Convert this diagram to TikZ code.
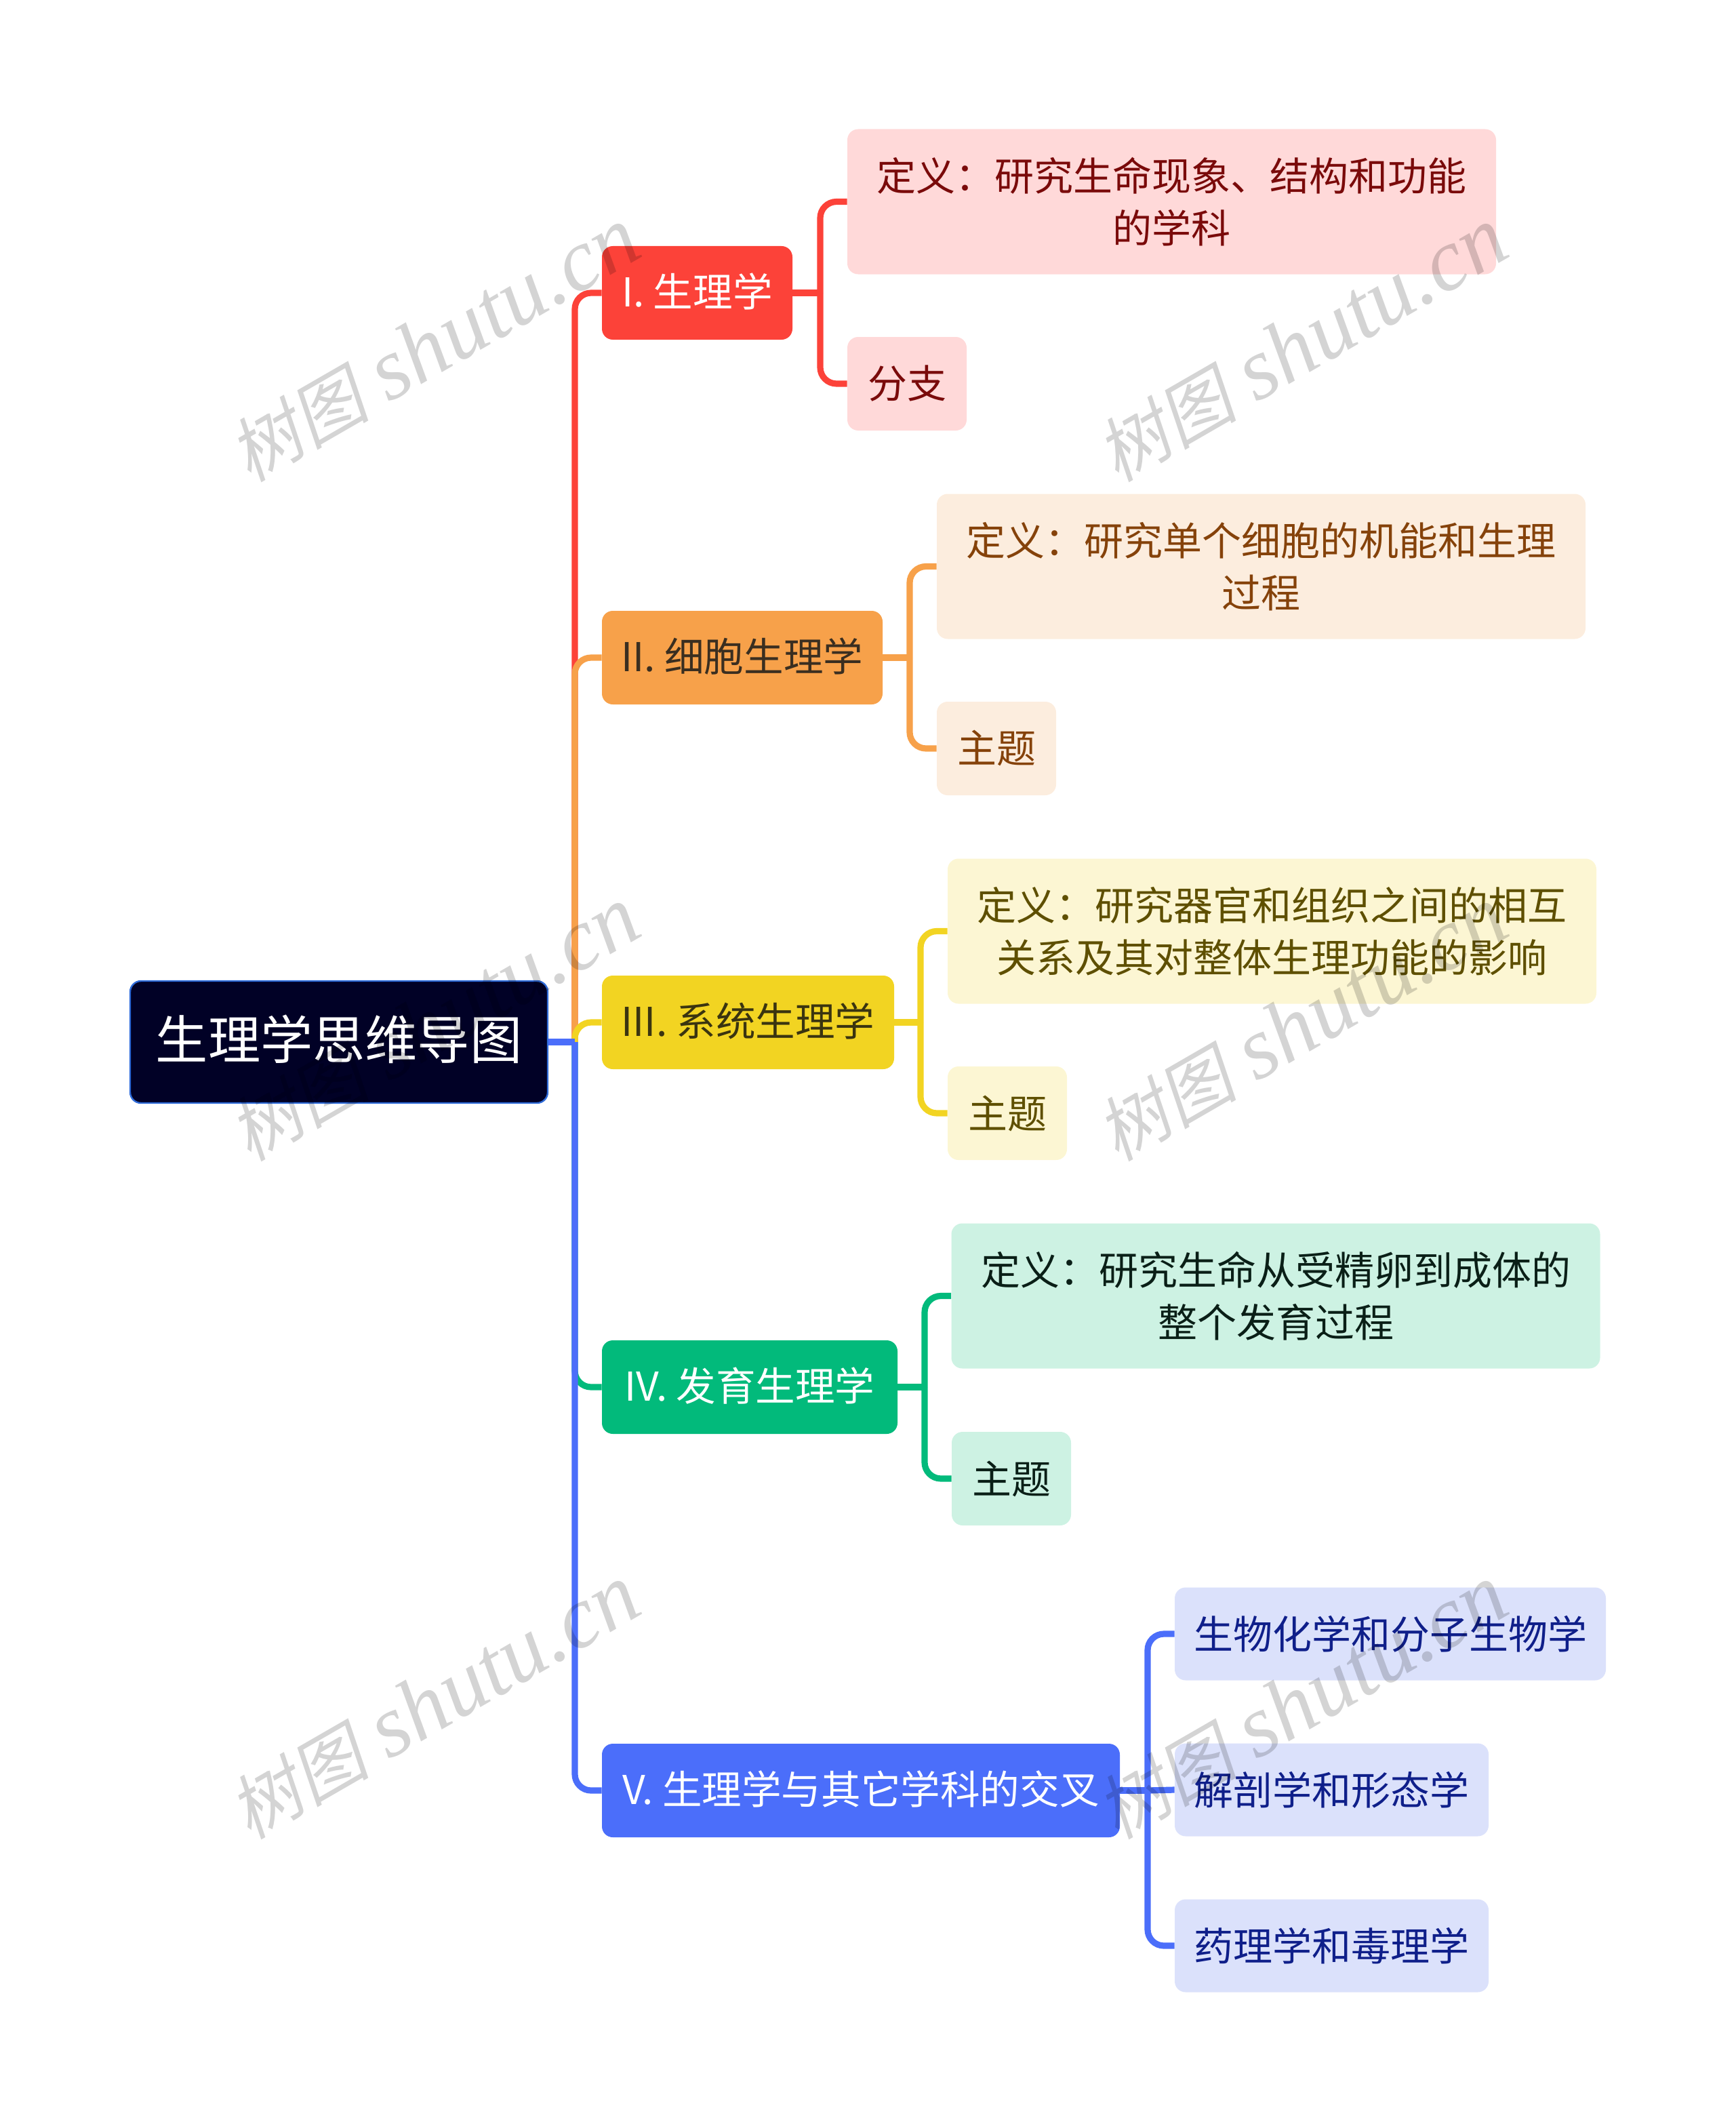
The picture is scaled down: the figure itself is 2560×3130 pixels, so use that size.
\documentclass[tikz,border=0pt]{standalone}
\usepackage{fontspec}
\setmainfont{Noto Sans CJK SC}
\newfontfamily\markfont[ItalicFont={Liberation Serif Italic}]{Liberation Serif}
\newfontfamily\markcjk[FakeSlant=0.2]{Noto Sans CJK SC}
\newcommand{\marktext}{{\fontsize{52}{66}\selectfont\markcjk 树图} {\markfont\itshape shutu.cn}}

\definecolor{rootfill}{HTML}{010126}
\definecolor{rootline}{HTML}{2F6BD8}
\definecolor{redmain}{HTML}{FC4239}
\definecolor{redsoft}{HTML}{FFD9D9}
\definecolor{redtext}{HTML}{7A0A0A}
\definecolor{orangemain}{HTML}{F7A14A}
\definecolor{orangesoft}{HTML}{FCEDDE}
\definecolor{orangetext}{HTML}{85420A}
\definecolor{orangedark}{HTML}{3A2E20}
\definecolor{yellowmain}{HTML}{F2D422}
\definecolor{yellowsoft}{HTML}{FCF6D3}
\definecolor{yellowtext}{HTML}{5E4F00}
\definecolor{yellowdark}{HTML}{3A3410}
\definecolor{greenmain}{HTML}{02BA7B}
\definecolor{greensoft}{HTML}{CDF2E3}
\definecolor{greentext}{HTML}{0A1F17}
\definecolor{bluemain}{HTML}{4B6EFA}
\definecolor{bluesoft}{HTML}{DBE1FB}
\definecolor{bluetext}{HTML}{0F1F8A}

\tikzset{
  rootbox/.style={draw=rootline,line width=1.2pt,fill=rootfill,text=white,rounded corners=8pt,inner sep=0pt,text height=34pt,text depth=9pt,font=\fontsize{38.6}{46}\selectfont},
  mainbox/.style={rounded corners=8pt,inner sep=0pt,minimum height=69pt,text height=26pt,text depth=5.5pt,font=\fontsize{29.3}{38.5}\selectfont},
  subbox/.style={rounded corners=8pt,inner sep=0pt,align=center,font=\fontsize{29}{38.5}\selectfont},
  link/.style={line width=4.6pt,rounded corners=12pt},
  watermark/.style={rotate=30,text=black,text opacity=.17,inner sep=0pt,font=\fontsize{65}{66}\selectfont},
}

\begin{document}
\begin{tikzpicture}[x=.5pt,y=-.5pt]
    \useasboundingbox (0,0) rectangle (2560,3130);

    \coordinate (hub) at (848,1537);
    \coordinate (forkI) at (1210,432);
    \coordinate (forkII) at (1342,970);
    \coordinate (forkIII) at (1358,1508);
    \coordinate (forkIV) at (1364,2046);
    \coordinate (forkV) at (1693,2641);

    \node[rootbox,minimum width=308pt,minimum height=90pt] (root) at (500,1537) {生理学思维导图};

    \node[mainbox,fill=redmain,text=white,minimum width=140.5pt] (I) at (1028.5,432) {I. 生理学};
    \node[subbox,fill=redsoft,text=redtext,minimum width=478.5pt,minimum height=107pt] (Idef) at (1728.5,297.5) {定义：研究生命现象、结构和功能\\的学科};
    \node[subbox,fill=redsoft,text=redtext,minimum width=88pt,minimum height=69pt] (Ibranch) at (1338,566) {分支};

    \node[mainbox,fill=orangemain,text=orangedark,minimum width=207pt] (II) at (1095,970) {II. 细胞生理学};
    \node[subbox,fill=orangesoft,text=orangetext,minimum width=478.5pt,minimum height=107pt] (IIdef) at (1860.5,835.5) {定义：研究单个细胞的机能和生理\\过程};
    \node[subbox,fill=orangesoft,text=orangetext,minimum width=88pt,minimum height=69pt] (IItopic) at (1470,1104) {主题};

    \node[mainbox,fill=yellowmain,text=yellowdark,minimum width=215.5pt] (III) at (1103.5,1508) {III. 系统生理学};
    \node[subbox,fill=yellowsoft,text=yellowtext,minimum width=478.5pt,minimum height=107pt] (IIIdef) at (1876.5,1373.5) {定义：研究器官和组织之间的相互\\关系及其对整体生理功能的影响};
    \node[subbox,fill=yellowsoft,text=yellowtext,minimum width=88pt,minimum height=69pt] (IIItopic) at (1486,1642) {主题};

    \node[mainbox,fill=greenmain,text=white,minimum width=218pt] (IV) at (1106,2046) {IV. 发育生理学};
    \node[subbox,fill=greensoft,text=greentext,minimum width=478.5pt,minimum height=107pt] (IVdef) at (1882,1911.5) {定义：研究生命从受精卵到成体的\\整个发育过程};
    \node[subbox,fill=greensoft,text=greentext,minimum width=88pt,minimum height=69pt] (IVtopic) at (1492,2181) {主题};

    \node[mainbox,fill=bluemain,text=white,minimum width=382pt] (V) at (1270,2641) {V. 生理学与其它学科的交叉};
    \node[subbox,fill=bluesoft,text=bluetext,minimum width=318pt,minimum height=68.5pt] (Vbio) at (2051,2410) {生物化学和分子生物学};
    \node[subbox,fill=bluesoft,text=bluetext,minimum width=231.5pt,minimum height=68.5pt] (Vform) at (1964.5,2640) {解剖学和形态学};
    \node[subbox,fill=bluesoft,text=bluetext,minimum width=231.5pt,minimum height=68.5pt] (Vdrug) at (1964.5,2870) {药理学和毒理学};

    \draw[link,redmain] (hub) |- (I.west);
    \draw[link,orangemain] (hub) |- (II.west);
    \draw[link,yellowmain] (hub) |- (III.west);
    \draw[link,greenmain] (hub) |- (IV.west);
    \draw[link,bluemain] (hub) |- (V.west);
    \draw[link,bluemain] (root.east) -- (hub);

    \draw[link,redmain] (I.east) -- (forkI);
    \draw[link,redmain] (forkI) |- (Idef.west);
    \draw[link,redmain] (forkI) |- (Ibranch.west);

    \draw[link,orangemain] (II.east) -- (forkII);
    \draw[link,orangemain] (forkII) |- (IIdef.west);
    \draw[link,orangemain] (forkII) |- (IItopic.west);

    \draw[link,yellowmain] (III.east) -- (forkIII);
    \draw[link,yellowmain] (forkIII) |- (IIIdef.west);
    \draw[link,yellowmain] (forkIII) |- (IIItopic.west);

    \draw[link,greenmain] (IV.east) -- (forkIV);
    \draw[link,greenmain] (forkIV) |- (IVdef.west);
    \draw[link,greenmain] (forkIV) |- (IVtopic.west);

    \draw[link,bluemain] (V.east) -- (forkV);
    \draw[link,bluemain] (forkV) |- (Vbio.west);
    \draw[link,bluemain] (forkV) -- (Vform.west);
    \draw[link,bluemain] (forkV) |- (Vdrug.west);

    \node[watermark] (mark1) at (640,509) {\marktext};
    \node[watermark] (mark2) at (1920,509) {\marktext};
    \node[watermark] (mark3) at (640,1511) {\marktext};
    \node[watermark] (mark4) at (1920,1511) {\marktext};
    \node[watermark] (mark5) at (640,2511) {\marktext};
    \node[watermark] (mark6) at (1920,2511) {\marktext};
\end{tikzpicture}
\end{document}
